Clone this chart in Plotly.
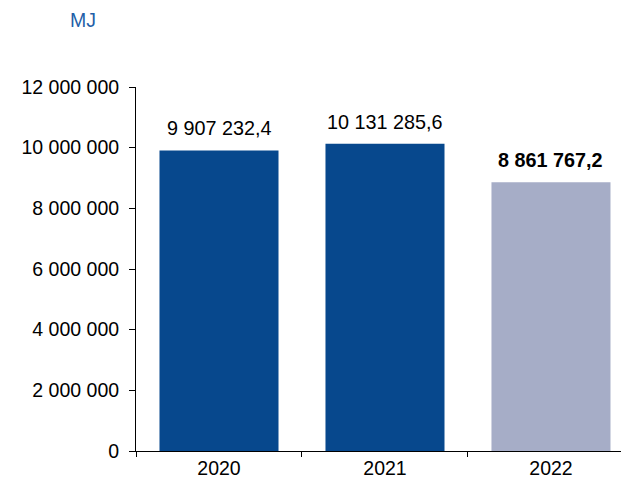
import plotly.graph_objects as go

years = ["2020", "2021", "2022"]
values = [9907232.4, 10131285.6, 8861767.2]
bar_colors = ["#07488D", "#07488D", "#A6ADC7"]
y_ticks = [0, 2000000, 4000000, 6000000, 8000000, 10000000, 12000000]


def fmt(v):
    whole, dec = f"{v:.1f}".split(".")
    whole = f"{int(whole):,}".replace(",", " ")
    return f"{whole},{dec}"


font = "Liberation Sans, Arial, sans-serif"
fs = 19.5

fig = go.Figure()
fig.add_trace(go.Bar(
    x=years, y=values, marker_color=bar_colors, marker_line_width=0,
    width=0.717, hoverinfo="skip",
))

for i, v in enumerate(values):
    txt = fmt(v)
    if i == len(values) - 1:
        txt = f"<b>{txt}</b>"
    fig.add_annotation(x=i, y=v, xref="x", yref="y", text=txt, showarrow=False,
                       yanchor="bottom", yshift=9,
                       font=dict(family=font, size=19.8, color="#000000"))

fig.add_annotation(xref="paper", yref="paper", x=-0.137, y=1.0, yshift=67,
                   text="MJ", showarrow=False, xanchor="left", yanchor="middle",
                   font=dict(family=font, size=fs, color="#1F5FA8"))

fig.update_layout(
    width=621, height=476,
    margin=dict(l=128, r=0, t=79, b=33, autoexpand=False),
    paper_bgcolor="white", plot_bgcolor="white",
    separators=", ",
    showlegend=False,
    font=dict(family=font, size=fs, color="#000000"),
)
fig.update_xaxes(
    type="category", range=[-0.5, 2.47], automargin=False,
    showline=True, linecolor="#000000", linewidth=1,
    ticks="outside", tickson="boundaries", ticklen=5, tickcolor="#000000",
    showgrid=False, zeroline=False,
    tickfont=dict(family=font, size=fs, color="#000000"),
)
fig.update_yaxes(
    range=[0, 12000000], tickvals=y_ticks, tickformat=",.0f", automargin=False,
    showline=True, linecolor="#000000", linewidth=1,
    ticks="outside", ticklen=6, tickcolor="#000000", ticklabelstandoff=6,
    showgrid=False, zeroline=False,
    tickfont=dict(family=font, size=fs, color="#000000"),
)

fig.write_html("out.html")
